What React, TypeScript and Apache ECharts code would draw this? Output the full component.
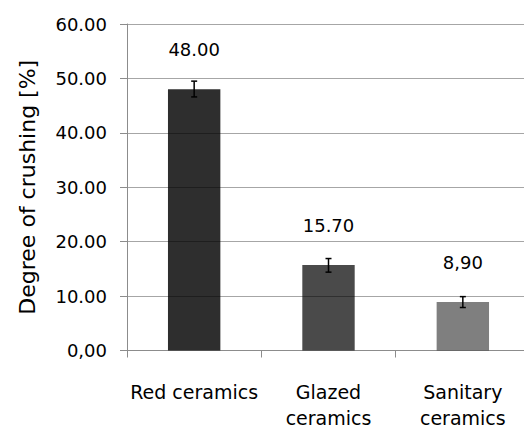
import React, { useEffect, useRef } from "react";
import * as echarts from "echarts";

const categories = ["Red ceramics", "Glazed\nceramics", "Sanitary\nceramics"];
const values = [48.0, 15.7, 8.9];
const valueLabels = ["48.00", "15.70", "8,90"];
const errLow = [46.6, 14.4, 7.9];
const errHigh = [49.5, 16.9, 9.9];
const barAlpha = [0.82, 0.71, 0.5];
const yTickLabels: Record<string, string> = {
  "0": "0,00",
  "10": "10.00",
  "20": "20.00",
  "30": "30.00",
  "40": "40.00",
  "50": "50.00",
  "60": "60.00",
};

const FONT = "DejaVu Sans";

export default function App() {
  const ref = useRef<HTMLDivElement>(null);
  useEffect(() => {
    if (!ref.current) return;
    const chart = echarts.init(ref.current, null, { renderer: "svg" });
    const option: any = {
      animation: false,
      backgroundColor: "#ffffff",
      grid: {
        left: 127,
        top: 24,
        width: 403,
        height: 326.5,
        containLabel: false,
        outerBoundsMode: "none",
      },
      xAxis: {
        type: "category",
        data: categories,
        axisLine: { lineStyle: { color: "#8c8c8c", width: 1 } },
        axisTick: { show: true, length: 7, lineStyle: { color: "#8c8c8c" } },
        axisLabel: {
          color: "#000",
          fontFamily: FONT,
          fontSize: 19,
          margin: 28,
          lineHeight: 26,
          interval: 0,
        },
      },
      yAxis: {
        type: "value",
        min: 0,
        max: 60,
        interval: 10,
        name: "Degree of crushing [%]",
        nameLocation: "middle",
        nameGap: 89,
        nameTextStyle: { color: "#000", fontFamily: FONT, fontSize: 22 },
        axisLine: { show: true, lineStyle: { color: "#8c8c8c", width: 1 } },
        axisTick: { show: true, length: 7, lineStyle: { color: "#8c8c8c" } },
        splitLine: { show: true, lineStyle: { color: "#a6a6a6", width: 1 } },
        axisLabel: {
          color: "#000",
          fontFamily: FONT,
          fontSize: 18,
          margin: 20,
          formatter: (v: number) => yTickLabels[String(v)] ?? String(v),
        },
      },
      series: [
        {
          type: "bar",
          barWidth: "39%",
          data: values.map((v, i) => ({
            value: v,
            itemStyle: { color: `rgba(0,0,0,${barAlpha[i]})` },
          })),
          label: {
            show: true,
            position: "top",
            distance: 31,
            color: "#000",
            fontFamily: FONT,
            fontSize: 18,
            formatter: (p: any) => valueLabels[p.dataIndex],
          },
          z: 2,
        },
        {
          type: "custom",
          data: errLow.map((lo, i) => [i, lo, errHigh[i]]),
          z: 5,
          renderItem: (params: any, api: any) => {
            const x = api.value(0);
            const lo = api.coord([x, api.value(1)]);
            const hi = api.coord([x, api.value(2)]);
            const hw = 3;
            const style = { stroke: "#000", lineWidth: 1.5 };
            return {
              type: "group",
              children: [
                { type: "line", shape: { x1: lo[0], y1: lo[1], x2: hi[0], y2: hi[1] }, style },
                { type: "line", shape: { x1: lo[0] - hw, y1: lo[1], x2: lo[0] + hw, y2: lo[1] }, style },
                { type: "line", shape: { x1: hi[0] - hw, y1: hi[1], x2: hi[0] + hw, y2: hi[1] }, style },
              ],
            };
          },
        },
      ],
    };
    chart.setOption(option);
    return () => chart.dispose();
  }, []);
  return (
    <div
      ref={ref}
      style={{ position: "fixed", left: 0, top: 0, width: 524, height: 428, background: "#fff" }}
    />
  );
}
